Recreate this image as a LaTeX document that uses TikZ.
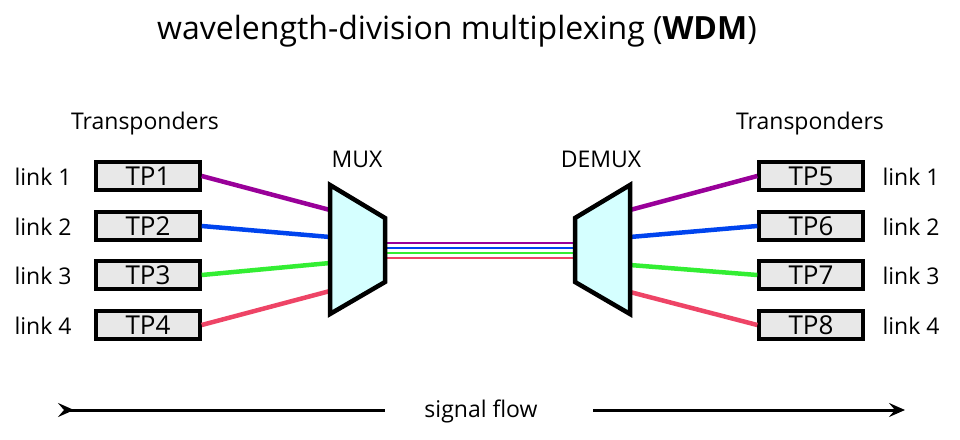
\documentclass[tikz,border=0pt]{standalone}
\usepackage{fontspec}
\setmainfont{Open Sans}
\usetikzlibrary{arrows.meta}
\begin{document}
\begin{tikzpicture}[x=1pt,y=-1pt,
  tp/.style={draw,line width=3.4pt,fill=gray!18,minimum width=104pt,minimum height=28pt,inner sep=0pt,font=\fontsize{26}{28}\selectfont},
  lbl/.style={font=\fontsize{23}{26}\selectfont},
  mx/.style={draw,line width=4.5pt,fill={rgb,255:red,213;green,255;blue,255},line join=miter},
  fib/.style={line width=4.5pt}]
\useasboundingbox (0,0) rectangle (960,439);
\definecolor{cp}{HTML}{990099}\definecolor{cb}{HTML}{0044EE}
\definecolor{cg}{HTML}{33EE33}\definecolor{cr}{HTML}{EE4466}
\node[font=\fontsize{32}{36}\selectfont] (title) at (457,31) {wavelength-division multiplexing (\textbf{WDM})};
\node[lbl] (trl) at (145,124) {Transponders};
\node[lbl] (trr) at (810,124) {Transponders};
\node[lbl] (mxl) at (357,159) {MUX};
\node[lbl] (dml) at (601,159) {DEMUX};
\foreach \i/\y in {1/176,2/226,3/275,4/325}{
  \node[tp] (tp\i) at (148,\y) {TP\i};
  \node[lbl] (ll\i) at (43,\y+1) {link \i};
  \pgfmathtruncatemacro\j{\i+4}
  \node[tp] (tp\j) at (811,\y) {TP\j};
  \node[lbl] (lr\i) at (911,\y+1) {link \i};
}
\coordinate (m1) at (330,210);\coordinate (m2) at (330,237);
\coordinate (m3) at (330,263);\coordinate (m4) at (330,291);
\coordinate (d1) at (630,210);\coordinate (d2) at (630,237);
\coordinate (d3) at (630,265);\coordinate (d4) at (630,292);
\draw[fib,cp] (tp1.east) -- (m1); \draw[fib,cb] (tp2.east) -- (m2);
\draw[fib,cg] (tp3.east) -- (m3); \draw[fib,cr] (tp4.east) -- (m4);
\draw[fib,cp] (d1) -- (tp5.west); \draw[fib,cb] (d2) -- (tp6.west);
\draw[fib,cg] (d3) -- (tp7.west); \draw[fib,cr] (d4) -- (tp8.west);
\foreach \y/\c in {243/cp,248/cb,253/cg,258/cr}
  \draw[line width=2.2pt,\c] (385,\y) -- (575,\y);
\draw[mx] (330,185) -- (385,218) -- (385,282) -- (330,314) -- cycle;
\draw[mx] (630,185) -- (575,218) -- (575,282) -- (630,314) -- cycle;
\node[lbl] (sf) at (481,411) {signal flow};
\coordinate (a0) at (58,410);\coordinate (a1) at (385,410);
\coordinate (b0) at (593,410);\coordinate (b1) at (905,410);
\draw[line width=3pt,{Stealth[reversed,length=16pt,width=14pt,inset=6pt]}-] (a0) -- (a1);
\draw[line width=3pt,-{Stealth[length=16pt,width=14pt,inset=6pt]}] (b0) -- (b1);
\end{tikzpicture}
\end{document}
